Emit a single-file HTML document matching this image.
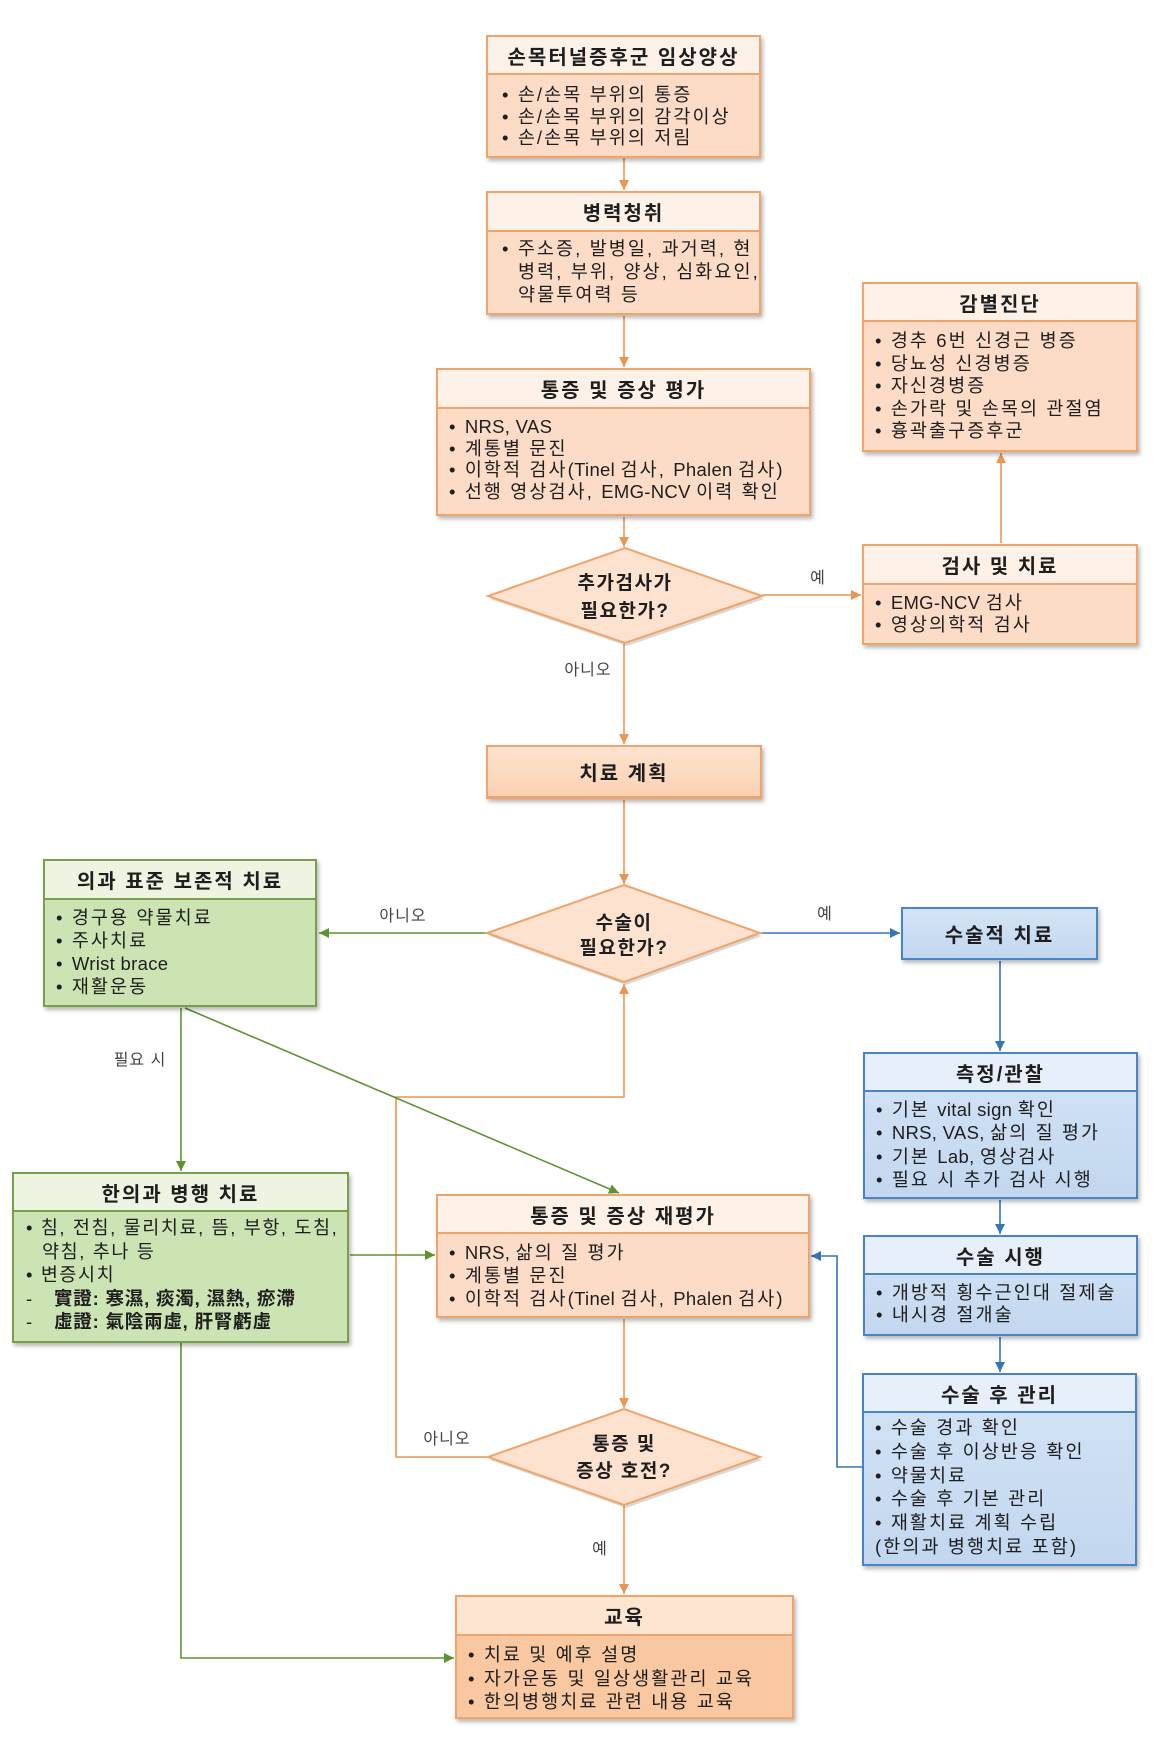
<!DOCTYPE html>
<html>
<head>
<meta charset="utf-8">
<style>
html,body{margin:0;padding:0;background:#fff;}
body{width:1158px;height:1744px;position:relative;overflow:hidden;font-family:"Liberation Sans","Noto Sans CJK KR",sans-serif;color:#1e1e1e;}
svg{position:absolute;left:0;top:0;}
.box{position:absolute;box-sizing:border-box;border:2px solid #f0a46a;box-shadow:2px 3px 4px rgba(0,0,0,.28);}
.hd{position:absolute;left:0;right:0;top:0;box-sizing:border-box;border-bottom:2px solid #f0a46a;display:flex;align-items:center;justify-content:center;font-weight:bold;font-size:20px;letter-spacing:2px;white-space:nowrap;}
.bd{position:absolute;left:11px;right:0;font-size:18.5px;letter-spacing:2.1px;white-space:nowrap;}
.l{letter-spacing:0.3px;}
.or{background:#fcdcc7;}
.or .hd{background:#fef2e8;}
.gr{border-color:#76a04a;background:#cce3b3;}
.gr .hd{background:#edf4e2;border-color:#76a04a;}
.bl{border-color:#4a84c2;background:linear-gradient(#d4e4f6,#c2d7ef);}
.bl .hd{background:#e7f0fa;border-color:#4a84c2;}
.single{display:flex;align-items:center;justify-content:center;font-weight:bold;font-size:20px;letter-spacing:2px;}
.ind{padding-left:16px;}
.hj{letter-spacing:0.8px;font-weight:bold;}
</style>
</head>
<body>
<svg width="1158" height="1744" viewBox="0 0 1158 1744">
<defs>
<marker id="ao" viewBox="0 0 10 10" refX="10" refY="5" markerWidth="10" markerHeight="10" markerUnits="userSpaceOnUse" orient="auto"><path d="M0,0 L10,5 L0,10 z" fill="#ec9450"/></marker>
<marker id="ag" viewBox="0 0 10 10" refX="10" refY="5" markerWidth="10" markerHeight="10" markerUnits="userSpaceOnUse" orient="auto"><path d="M0,0 L10,5 L0,10 z" fill="#5f9232"/></marker>
<marker id="ab" viewBox="0 0 10 10" refX="10" refY="5" markerWidth="10" markerHeight="10" markerUnits="userSpaceOnUse" orient="auto"><path d="M0,0 L10,5 L0,10 z" fill="#3576b8"/></marker>
</defs>
<g fill="none" stroke-width="1.6">
<g stroke="#ec9450">
<line x1="624" y1="158" x2="624" y2="190" marker-end="url(#ao)"/>
<line x1="624" y1="316" x2="624" y2="367" marker-end="url(#ao)"/>
<line x1="624" y1="517" x2="624" y2="547" marker-end="url(#ao)"/>
<line x1="762" y1="595" x2="861" y2="595" marker-end="url(#ao)"/>
<line x1="1001" y1="543" x2="1001" y2="453" marker-end="url(#ao)"/>
<line x1="624" y1="644" x2="624" y2="744" marker-end="url(#ao)"/>
<line x1="624" y1="800" x2="624" y2="884" marker-end="url(#ao)"/>
<line x1="624" y1="1319" x2="624" y2="1408" marker-end="url(#ao)"/>
<polyline points="488,1457 396,1457 396,1097 624,1097 624,984" marker-end="url(#ao)"/>
<line x1="624" y1="1506" x2="624" y2="1594" marker-end="url(#ao)"/>
</g>
<g stroke="#5f9232">
<line x1="487" y1="933" x2="319" y2="933" marker-end="url(#ag)"/>
<line x1="181" y1="1008" x2="181" y2="1171" marker-end="url(#ag)"/>
<line x1="185" y1="1008" x2="619" y2="1193" marker-end="url(#ag)"/>
<line x1="350" y1="1255" x2="435" y2="1255" marker-end="url(#ag)"/>
<polyline points="181,1343 181,1658 454,1658" marker-end="url(#ag)"/>
</g>
<g stroke="#3576b8">
<line x1="760" y1="933" x2="900" y2="933" marker-end="url(#ab)"/>
<line x1="1000" y1="961" x2="1000" y2="1051" marker-end="url(#ab)"/>
<line x1="1000" y1="1200" x2="1000" y2="1234" marker-end="url(#ab)"/>
<line x1="1000" y1="1337" x2="1000" y2="1372" marker-end="url(#ab)"/>
<polyline points="862,1467 837,1467 837,1256 811,1256" marker-end="url(#ab)"/>
</g>
</g>
<g>
<polygon points="627,551 764,599 627,646 490,599" fill="#000" opacity="0.15"/>
<polygon points="625,548 762,596 625,643 488,596" fill="#fde2cf" stroke="#f0a46a" stroke-width="2"/>
<polygon points="626,888 762,936 626,985 489,936" fill="#000" opacity="0.15"/>
<polygon points="624,885 760,933 624,982 487,933" fill="#fde2cf" stroke="#f0a46a" stroke-width="2"/>
<polygon points="626,1412 762,1460 626,1508 490,1460" fill="#000" opacity="0.15"/>
<polygon points="624,1409 760,1457 624,1505 488,1457" fill="#fde2cf" stroke="#f0a46a" stroke-width="2"/>
</g>
<g font-family="Liberation Sans, Noto Sans CJK KR, sans-serif" font-weight="bold" font-size="19" letter-spacing="1.5" fill="#1e1e1e" text-anchor="middle">
<text x="625" y="589">추가검사가</text>
<text x="625" y="617">필요한가?</text>
<text x="624" y="929">수술이</text>
<text x="624" y="954">필요한가?</text>
<text x="624" y="1450">통증 및</text>
<text x="624" y="1477">증상 호전?</text>
</g>
<g font-family="Liberation Sans, Noto Sans CJK KR, sans-serif" font-size="16" letter-spacing="1" fill="#444" text-anchor="middle">
<text x="818" y="583">예</text>
<text x="588" y="675">아니오</text>
<text x="403" y="921">아니오</text>
<text x="825" y="919">예</text>
<text x="140" y="1065">필요 시</text>
<text x="447" y="1444">아니오</text>
<text x="600" y="1554">예</text>
</g>
</svg>

<div class="box or" style="left:486px;top:35px;width:275px;height:123px;">
<div class="hd" style="height:38px;">손목터널증후군 임상양상</div>
<div class="bd" style="top:47px;line-height:21.5px;left:14px;">• 손/손목 부위의 통증<br>• 손/손목 부위의 감각이상<br>• 손/손목 부위의 저림</div>
</div>
<div class="box or" style="left:486px;top:191px;width:275px;height:124px;">
<div class="hd" style="height:39px;">병력청취</div>
<div class="bd" style="top:44px;line-height:23px;left:14px;">• 주소증, 발병일, 과거력, 현<br><span class="ind">병력, 부위, 양상, 심화요인,</span><br><span class="ind">약물투여력 등</span></div>
</div>
<div class="box or" style="left:436px;top:368px;width:375px;height:148px;">
<div class="hd" style="height:39px;">통증 및 증상 평가</div>
<div class="bd" style="top:46px;line-height:21.7px;">• <span class="l">NRS, VAS</span><br>• 계통별 문진<br>• 이학적 검사<span class="l">(Tinel </span>검사, <span class="l">Phalen </span>검사)<br>• 선행 영상검사, <span class="l">EMG-NCV </span>이력 확인</div>
</div>
<div class="box or" style="left:862px;top:282px;width:276px;height:170px;">
<div class="hd" style="height:38px;">감별진단</div>
<div class="bd" style="top:46px;line-height:22.5px;">• 경추 6번 신경근 병증<br>• 당뇨성 신경병증<br>• 자신경병증<br>• 손가락 및 손목의 관절염<br>• 흉곽출구증후군</div>
</div>
<div class="box or" style="left:862px;top:544px;width:276px;height:101px;">
<div class="hd" style="height:39px;">검사 및 치료</div>
<div class="bd" style="top:46px;line-height:22px;">• <span class="l">EMG-NCV </span>검사<br>• 영상의학적 검사</div>
</div>
<div class="box or single" style="left:486px;top:745px;width:276px;height:54px;background:linear-gradient(#fde3d0,#fbd2b3);border-bottom-width:3px;">치료 계획</div>
<div class="box or" style="left:436px;top:1194px;width:374px;height:124px;">
<div class="hd" style="height:38px;">통증 및 증상 재평가</div>
<div class="bd" style="top:44.5px;line-height:23px;">• <span class="l">NRS, </span>삶의 질 평가<br>• 계통별 문진<br>• 이학적 검사<span class="l">(Tinel </span>검사, <span class="l">Phalen </span>검사)</div>
</div>
<div class="box or" style="left:455px;top:1595px;width:339px;height:124px;background:#f9c8a0;">
<div class="hd" style="height:39px;background:#fde5d2;">교육</div>
<div class="bd" style="top:46px;line-height:23.5px;">• 치료 및 예후 설명<br>• 자가운동 및 일상생활관리 교육<br>• 한의병행치료 관련 내용 교육</div>
</div>
<div class="box gr" style="left:43px;top:859px;width:274px;height:148px;">
<div class="hd" style="height:39px;">의과 표준 보존적 치료</div>
<div class="bd" style="top:44.5px;line-height:23px;">• 경구용 약물치료<br>• 주사치료<br>• <span class="l">Wrist brace</span><br>• 재활운동</div>
</div>
<div class="box gr" style="left:12px;top:1172px;width:337px;height:171px;">
<div class="hd" style="height:38px;">한의과 병행 치료</div>
<div class="bd" style="top:42px;line-height:23.5px;left:12px;letter-spacing:1.6px;">• 침, 전침, 물리치료, 뜸, 부항, 도침,<br><span class="ind">약침, 추나 등</span><br>• 변증시치<br>-&nbsp;&nbsp;&nbsp;<span class="hj">實證: 寒濕, 痰濁, 濕熱, 瘀滯</span><br>-&nbsp;&nbsp;&nbsp;<span class="hj">虛證: 氣陰兩虛, 肝腎虧虛</span></div>
</div>
<div class="box bl single" style="left:901px;top:907px;width:197px;height:53px;">수술적 치료</div>
<div class="box bl" style="left:863px;top:1052px;width:275px;height:147px;">
<div class="hd" style="height:38px;">측정/관찰</div>
<div class="bd" style="top:44px;line-height:23.3px;">• 기본 <span class="l">vital sign </span>확인<br>• <span class="l">NRS, VAS, </span>삶의 질 평가<br>• 기본 <span class="l">Lab, </span>영상검사<br>• 필요 시 추가 검사 시행</div>
</div>
<div class="box bl" style="left:863px;top:1235px;width:275px;height:101px;">
<div class="hd" style="height:38px;">수술 시행</div>
<div class="bd" style="top:45px;line-height:22px;">• 개방적 횡수근인대 절제술<br>• 내시경 절개술</div>
</div>
<div class="box bl" style="left:862px;top:1373px;width:275px;height:193px;">
<div class="hd" style="height:38px;">수술 후 관리</div>
<div class="bd" style="top:41px;line-height:23.8px;">• 수술 경과 확인<br>• 수술 후 이상반응 확인<br>• 약물치료<br>• 수술 후 기본 관리<br>• 재활치료 계획 수립<br>(한의과 병행치료 포함)</div>
</div>
</body>
</html>
